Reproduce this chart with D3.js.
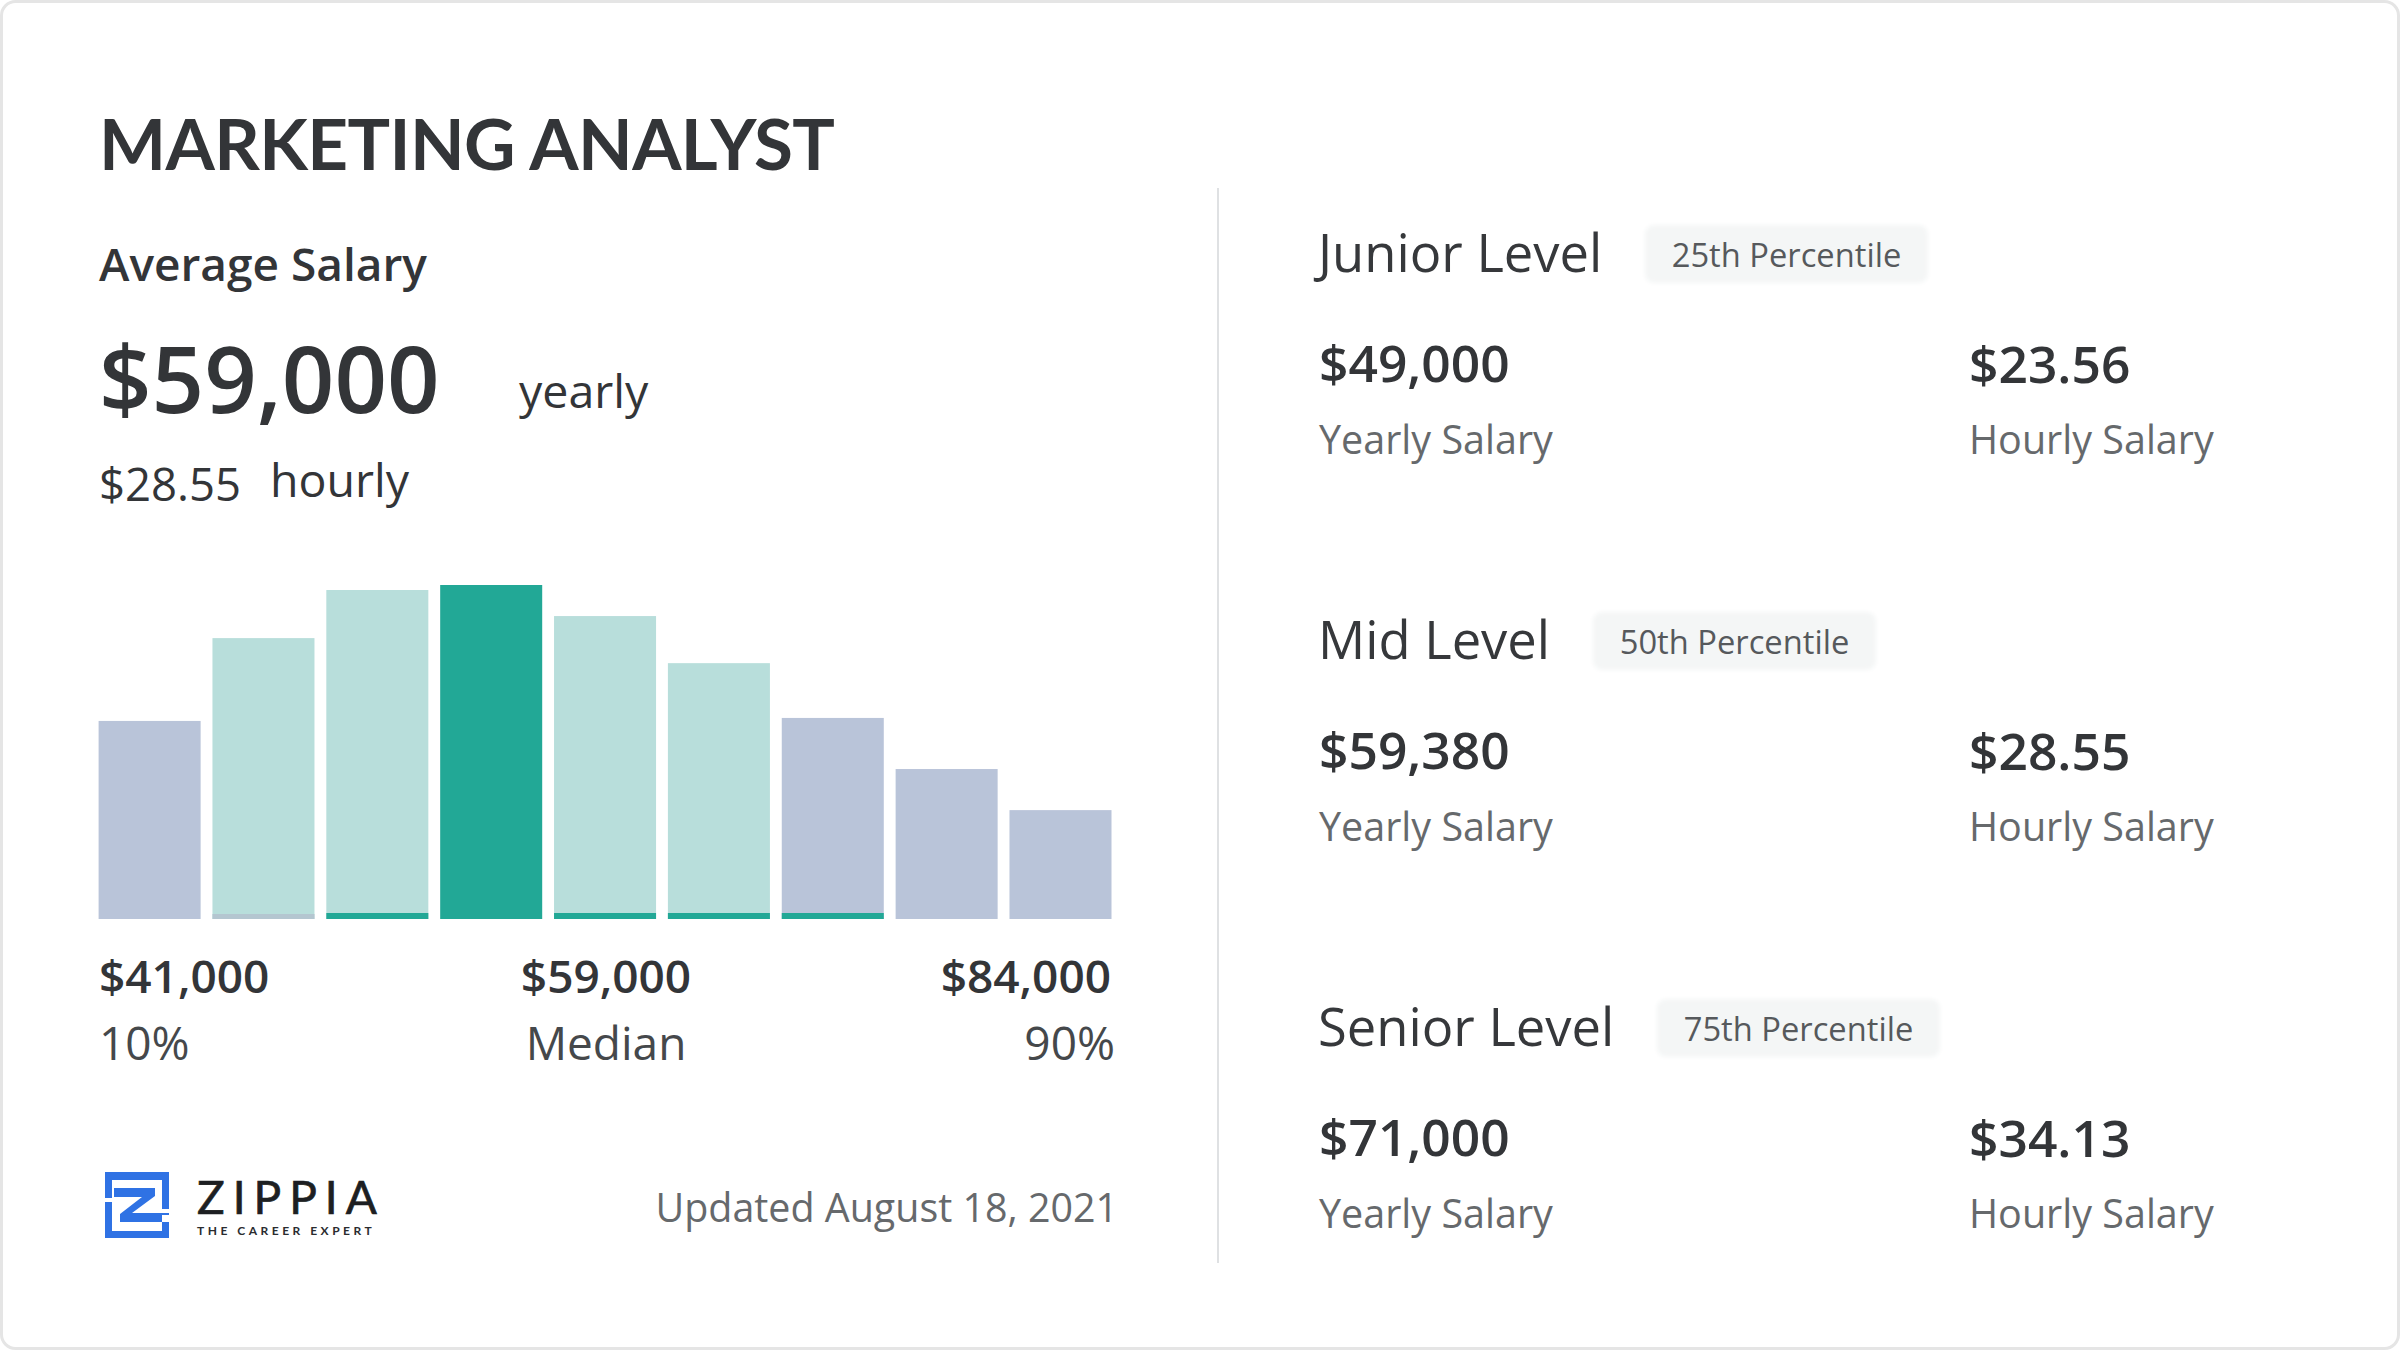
<!DOCTYPE html>
<html><head><meta charset="utf-8">
<script src="https://cdn.jsdelivr.net/npm/d3@7"></script>
<style>
html,body{margin:0;padding:0;background:#fff;}
svg{display:block;}
text{font-family:"Open Sans","Noto Sans",sans-serif;}
</style></head><body>
<svg id="c" width="2400" height="1350"></svg>
<script>
const title = "MARKETING ANALYST";
const bins = ["b1","b2","b3","b4","b5","b6","b7","b8","b9"];
const binShare = [59.3,84.1,98.5,100,90.7,76.6,60.2,44.9,32.6];
const binGroup = ["outer","mid","mid","median","mid","mid","outer","outer","outer"];
const stripBins = ["b3","b5","b6","b7"];
const fadedStripBins = ["b2"];
const summaryValues = ["$41,000","$59,000","$84,000"];
const summaryLabels = ["10%","Median","90%"];
const levels = ["Junior Level","Mid Level","Senior Level"];
const percentiles = ["25th Percentile","50th Percentile","75th Percentile"];
const yearly = ["$49,000","$59,380","$71,000"];
const hourly = ["$23.56","$28.55","$34.13"];

const svg = d3.select("#c");
const ink="#333538", soft="#45484b", grey="#66696c";
const defs = svg.append("defs");
defs.append("filter").attr("id","soft").append("feGaussianBlur").attr("stdDeviation",2);
function t(x,y,s,size,opt={}){
  return svg.append("text").attr("x",x).attr("y",y).text(s)
    .attr("font-size",size).attr("font-weight",opt.w||400)
    .attr("fill",opt.c||ink).attr("text-anchor",opt.a||"start")
    .style("font-family",opt.f||null).style("letter-spacing",opt.ls||null);
}
// card
svg.append("rect").attr("x",1.5).attr("y",1.5).attr("width",2397).attr("height",1347)
  .attr("rx",14).attr("fill","#fff").attr("stroke","#e5e5e5").attr("stroke-width",3);

t(99,170,title,71,{w:700,f:"Lato",ls:"-0.6px"});
t(99,281,"Average Salary",46,{w:600});
t(99,413,"$59,000",92,{w:600});
t(519,408,"yearly",46.5);
t(99,501,"$28.55",45.5);
t(270,497,"hourly",46.5);

// histogram
const x = d3.scaleBand().domain(bins).range([98.6,1111.5]).paddingInner(0.104).paddingOuter(0);
const y = d3.scaleLinear().domain([0,100]).range([919,585]);
const colour = d3.scaleOrdinal().domain(["outer","mid","median"]).range(["#b9c4d9","#b8dedb","#22a896"]);
svg.append("g").selectAll("rect").data(bins).join("rect")
  .attr("x",d=>x(d)).attr("width",x.bandwidth())
  .attr("y",(d,i)=>y(binShare[i])).attr("height",(d,i)=>y(0)-y(binShare[i]))
  .attr("fill",(d,i)=>colour(binGroup[i]));
svg.append("g").selectAll("rect").data(stripBins).join("rect")
  .attr("x",d=>x(d)).attr("width",x.bandwidth())
  .attr("y",y(0)-6).attr("height",6).attr("fill","#22a896");
svg.append("g").selectAll("rect").data(fadedStripBins).join("rect")
  .attr("x",d=>x(d)).attr("width",x.bandwidth())
  .attr("y",y(0)-5).attr("height",5).attr("fill","#b4c6d0");

const anchors=["start","middle","end"], xs=[99,606,1111], xl=[99,606,1115];
summaryValues.forEach((s,i)=>t(xs[i],993,s,46,{w:600,a:anchors[i]}));
summaryLabels.forEach((s,i)=>t(xl[i],1060,s,46,{c:soft,a:anchors[i]}));

// logo
const logo = svg.append("g").attr("transform","translate(105,1172)");
logo.append("path").attr("fill","#2f72e4").attr("fill-rule","evenodd")
  .attr("d","M0 0H64V37H57V8H7V26H0Z M0 30H7V59H57V43H64V66H0Z M9 16H50V24L27 41H64V50H15V42L37 25H9Z");
t(197,1214,"ZIPPIA",46,{f:"Lato",c:"#1d1f22",ls:"8px"}).attr("stroke","#1d1f22").attr("stroke-width",0.7);
t(197,1235,"THE CAREER EXPERT",12,{f:"Lato",w:700,c:"#2a2c2f",ls:"3.5px"});
t(1118,1222,"Updated August 18, 2021",39.4,{c:grey,a:"end"});

// divider
svg.append("line").attr("x1",1218).attr("x2",1218).attr("y1",188).attr("y2",1263)
  .attr("stroke","#dfe1e3").attr("stroke-width",2);

// levels
const rowY = d3.scalePoint().domain(levels).range([0,774]);
const pillX=[1645,1593,1657];
levels.forEach((lv,i)=>{
  const dy=rowY(lv);
  t(1318,272+dy,lv,52.5,{c:"#36383b"});
  svg.append("rect").attr("x",pillX[i]).attr("y",225+dy).attr("width",283).attr("height",58)
    .attr("rx",9).attr("fill","#f4f6f6").attr("filter","url(#soft)");
  t(pillX[i]+141.5,267+dy,percentiles[i],32.7,{c:"#56595c",a:"middle"});
  t(1319,382+dy,yearly[i],51.5,{w:600});
  t(1969,383+dy,hourly[i],51.5,{w:600});
  t(1319,454+dy,"Yearly Salary",39.5,{c:grey});
  t(1969,454+dy,"Hourly Salary",39.5,{c:grey});
});
</script>
</body></html>
